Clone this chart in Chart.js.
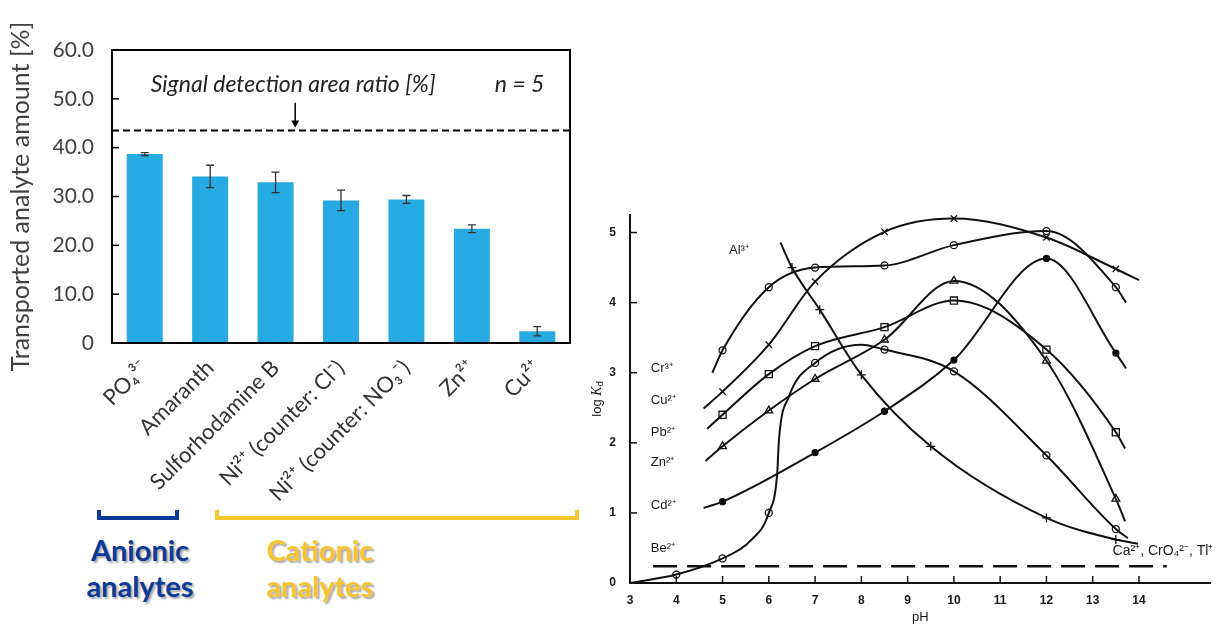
<!DOCTYPE html>
<html>
<head>
<meta charset="utf-8">
<script src="https://cdn.jsdelivr.net/npm/chart.js@4.4.1/dist/chart.umd.min.js"></script>
<style>
    body { margin: 0; background: #fff; width: 1217px; height: 625px; position: relative; overflow: hidden; font-family: Lato, sans-serif; }
    #barBox { position: absolute; left: 0; top: 0; width: 590px; height: 510px; }
    #kdBox { position: absolute; left: 580px; top: 195px; width: 637px; height: 430px; }
    .bracket { position: absolute; top: 510px; height: 6px; border: 4px solid; border-top: none; }
    .group { position: absolute; top: 532px; font: bold 29px Lato, sans-serif; line-height: 36px; text-align: center; text-shadow: 2px 2px 2px rgba(0,0,0,0.35); }
</style>
</head>
<body>
<div id="barBox"><canvas id="barChart" width="590" height="510"></canvas></div>
<div id="kdBox"><canvas id="kdChart" width="637" height="430"></canvas></div>

<div class="bracket" style="left:97px;width:74px;border-color:#0d3a96"></div>
<div class="bracket" style="left:215px;width:356px;border-color:#f5c431"></div>
<div class="group" style="left:78px;width:124px;color:#0d3a96">Anionic<br>analytes</div>
<div class="group" style="left:258px;width:124px;color:#f5c431">Cationic<br>analytes</div>

<script>
// ---- left chart data ----
const analytes = ['PO₄³⁻', 'Amaranth', 'Sulforhodamine B', 'Ni²⁺ (counter: Cl⁻)', 'Ni²⁺ (counter: NO₃⁻)', 'Zn²⁺', 'Cu²⁺'];
const transported = [38.7, 34.1, 32.9, 29.2, 29.4, 23.4, 2.4];
const transportedErr = [0.3, 2.3, 2.1, 2.1, 0.8, 0.8, 0.95];
const detectionRatio = 43.5;
const amountTicks = [0, 10, 20, 30, 40, 50, 60];

// ---- right chart data (log Kd vs pH) ----
const phTicks = [3, 4, 5, 6, 7, 8, 9, 10, 11, 12, 13, 14];
const kdTicks = [0, 1, 2, 3, 4, 5];
// measured points (with markers) and extra curve points without markers
const cr3Pts = [[5, 3.32], [6, 4.22], [7, 4.5], [8.5, 4.53], [10, 4.82], [12, 5.02], [13.5, 4.22]];
const cr3Ext = [[4.78, 3.0], [13.72, 4.0]];
const cu2Pts = [[5, 2.73], [6, 3.4], [7, 4.3], [8.5, 5.01], [10, 5.2], [12, 4.93], [13.5, 4.48]];
const cu2Ext = [[4.59, 2.49], [14.0, 4.32]];
const pb2Pts = [[5, 2.4], [6, 2.98], [7, 3.38], [8.5, 3.65], [10, 4.03], [12, 3.33], [13.5, 2.15]];
const pb2Ext = [[4.67, 2.2], [13.7, 1.92]];
const zn2Pts = [[5, 1.95], [6, 2.46], [7, 2.91], [8.5, 3.47], [10, 4.31], [12, 3.17], [13.5, 1.2]];
const zn2Ext = [[4.63, 1.74], [13.7, 0.88]];
const cd2Pts = [[5, 1.16], [7, 1.86], [8.5, 2.45], [10, 3.18], [12, 4.63], [13.5, 3.28]];
const cd2Ext = [[4.59, 1.07], [13.72, 3.06]];
const be2Pts = [[4, 0.12], [5, 0.35], [6, 1.0], [7, 3.14], [8.5, 3.33], [10, 3.02], [12, 1.82], [13.5, 0.77]];
const be2Ext = [[3, 0.0], [5.6, 0.6], [6.18, 1.55], [6.22, 2.05], [6.43, 2.65], [8.0, 3.40], [13.76, 0.64]];
const al3Pts = [[6.5, 4.5], [7.1, 3.9], [8, 2.97], [9.5, 1.95], [12, 0.93], [13.5, 0.62]];
const al3Ext = [[6.25, 4.86], [13.98, 0.56]];
const noSorption = [[3.5, 0.24], [14.6, 0.24]];

const speciesNames = ['Cr³⁺', 'Cu²⁺', 'Pb²⁺', 'Zn²⁺', 'Cd²⁺', 'Be²⁺'];
const speciesLabelY = [3.06, 2.6, 2.15, 1.72, 1.11, 0.5];

// ============ bar chart ============
const barDecor = {
    id: 'barDecor',
    afterDatasetsDraw(chart) {
        const { ctx, chartArea: a, scales: { x, y } } = chart;
        ctx.save();
        // error bars
        ctx.strokeStyle = '#333';
        ctx.lineWidth = 1.3;
        transported.forEach((v, i) => {
            const px = x.getPixelForValue(i);
            const t = y.getPixelForValue(v + transportedErr[i]);
            const b = y.getPixelForValue(v - transportedErr[i]);
            ctx.beginPath();
            ctx.moveTo(px, t); ctx.lineTo(px, b);
            ctx.moveTo(px - 4, t); ctx.lineTo(px + 4, t);
            ctx.moveTo(px - 4, b); ctx.lineTo(px + 4, b);
            ctx.stroke();
        });
        // dashed detection line
        const dy = y.getPixelForValue(detectionRatio);
        ctx.strokeStyle = '#000';
        ctx.lineWidth = 2;
        ctx.setLineDash([7, 4]);
        ctx.beginPath();
        ctx.moveTo(a.left, dy); ctx.lineTo(a.right, dy);
        ctx.stroke();
        ctx.setLineDash([]);
        // arrow
        const ax = a.left + a.width * 0.40;
        const at = y.getPixelForValue(49.2);
        ctx.lineWidth = 1.5;
        ctx.beginPath();
        ctx.moveTo(ax, at); ctx.lineTo(ax, dy - 6);
        ctx.stroke();
        ctx.fillStyle = '#000';
        ctx.beginPath();
        ctx.moveTo(ax - 4, dy - 10); ctx.lineTo(ax + 4, dy - 10); ctx.lineTo(ax, dy - 3);
        ctx.closePath();
        ctx.fill();
        // annotation text
        ctx.fillStyle = '#222';
        ctx.font = 'italic 23px Lato, sans-serif';
        ctx.textAlign = 'center';
        ctx.textBaseline = 'middle';
        const ty = y.getPixelForValue(53.0);
        ctx.fillText('Signal detection area ratio [%]', ax - 2, ty);
        ctx.fillText('n = 5', a.left + a.width * 0.89, ty);
        // inner tick marks on the y axis
        ctx.strokeStyle = '#000';
        ctx.lineWidth = 1.5;
        amountTicks.forEach(v => {
            const py = y.getPixelForValue(v);
            ctx.beginPath();
            ctx.moveTo(a.left, py); ctx.lineTo(a.left + 7, py);
            ctx.stroke();
        });
        // frame
        ctx.lineWidth = 2;
        ctx.strokeRect(a.left, a.top, a.width, a.height);
        ctx.restore();
    }
};

new Chart(document.getElementById('barChart'), {
    type: 'bar',
    data: {
        labels: analytes,
        datasets: [{
            data: transported,
            backgroundColor: '#27a9e1',
            barPercentage: 0.55,
            categoryPercentage: 1
        }]
    },
    options: {
        responsive: false,
        animation: false,
        layout: { padding: { top: 50, right: 20, left: 0, bottom: 0 } },
        plugins: { legend: { display: false }, tooltip: { enabled: false } },
        scales: {
            x: {
                grid: { display: false },
                border: { display: false },
                ticks: { color: '#333', font: { family: 'Lato', size: 22 }, minRotation: 45, maxRotation: 45, padding: 4 },
                afterFit: s => { s.height = 167; }
            },
            y: {
                min: 0, max: 60,
                grid: { display: false },
                border: { display: false },
                afterBuildTicks: s => { s.ticks = amountTicks.map(v => ({ value: v })); },
                ticks: {
                    color: '#404040', font: { family: 'Lato', size: 21 }, padding: 10,
                    callback: v => v === 0 ? '0' : v.toFixed(1)
                },
                title: {
                    display: true, text: 'Transported analyte amount [%]',
                    color: '#404040', font: { family: 'Lato', size: 25 }, padding: { top: 6, bottom: 0 }
                },
                afterFit: s => { s.width = 112; }
            }
        }
    },
    plugins: [barDecor]
});

// ============ log Kd chart ============
const toXY = arr => arr.map(p => ({ x: p[0], y: p[1] }));
const curve = (pts, ext) => toXY([...pts, ...ext].sort((a, b) => a[0] - b[0]));

const series = [
    { pts: cr3Pts, ext: cr3Ext, style: 'circle', fill: '#fff', r: 3.5 },
    { pts: cu2Pts, ext: cu2Ext, style: 'crossRot', fill: '#fff', r: 4.5 },
    { pts: pb2Pts, ext: pb2Ext, style: 'rect', fill: '#fff', r: 5 },
    { pts: zn2Pts, ext: zn2Ext, style: 'triangle', fill: '#fff', r: 4.5 },
    { pts: cd2Pts, ext: cd2Ext, style: 'circle', fill: '#000', r: 3 },
    { pts: be2Pts, ext: be2Ext, style: 'circle', fill: '#fff', r: 3.5 },
    { pts: al3Pts, ext: al3Ext, style: 'cross', fill: '#fff', r: 4.5 }
];

const kdDatasets = [];
series.forEach(s => {
    kdDatasets.push({
        data: curve(s.pts, s.ext),
        borderColor: '#111', borderWidth: 2,
        pointRadius: 0, cubicInterpolationMode: 'monotone', fill: false
    });
});
series.forEach(s => {
    kdDatasets.push({
        data: toXY(s.pts),
        showLine: false,
        pointStyle: s.style, pointRadius: s.r,
        pointBackgroundColor: s.fill, pointBorderColor: '#111', pointBorderWidth: 1.3
    });
});
kdDatasets.push({
    data: toXY(noSorption),
    borderColor: '#111', borderWidth: 2.4, borderDash: [24, 10],
    pointRadius: 0, fill: false
});

const kdDecor = {
    id: 'kdDecor',
    afterDraw(chart) {
        const { ctx, chartArea: a, scales: { x, y } } = chart;
        ctx.save();
        ctx.strokeStyle = '#111';
        ctx.lineWidth = 1.5;
        phTicks.forEach(v => {
            const px = x.getPixelForValue(v);
            ctx.beginPath(); ctx.moveTo(px, a.bottom); ctx.lineTo(px, a.bottom - 7); ctx.stroke();
        });
        kdTicks.forEach(v => {
            const py = y.getPixelForValue(v);
            ctx.beginPath(); ctx.moveTo(a.left, py); ctx.lineTo(a.left + 7, py); ctx.stroke();
        });
        ctx.fillStyle = '#1a1a1a';
        ctx.font = '13px "Liberation Sans", sans-serif';
        ctx.textBaseline = 'middle';
        ctx.textAlign = 'left';
        speciesNames.forEach((n, i) => {
            ctx.fillText(n, x.getPixelForValue(3.45), y.getPixelForValue(speciesLabelY[i]));
        });
        ctx.fillText('Al³⁺', x.getPixelForValue(5.14), y.getPixelForValue(4.74));
        ctx.font = '14px "Liberation Sans", sans-serif';
        ctx.fillText('Ca²⁺, CrO₄²⁻, Tl⁺', x.getPixelForValue(13.43), y.getPixelForValue(0.45));
        // y title: log K_d
        ctx.translate(17, (a.top + a.bottom) / 2);
        ctx.rotate(-Math.PI / 2);
        ctx.textAlign = 'left';
        ctx.font = '13px "Liberation Sans", sans-serif';
        const w1 = ctx.measureText('log ').width;
        ctx.font = 'italic 14px "Liberation Serif", serif';
        const w2 = ctx.measureText('K').width;
        const x0 = -(w1 + w2 + 5) / 2;
        ctx.font = '13px "Liberation Sans", sans-serif';
        ctx.fillText('log ', x0, 0);
        ctx.font = 'italic 14px "Liberation Serif", serif';
        ctx.fillText('K', x0 + w1, 0);
        ctx.font = '9px "Liberation Sans", sans-serif';
        ctx.fillText('d', x0 + w1 + w2, 4);
        ctx.restore();
    }
};

new Chart(document.getElementById('kdChart'), {
    type: 'line',
    data: { datasets: kdDatasets },
    options: {
        responsive: false,
        animation: false,
        layout: { padding: { top: 20, right: 0, left: 0, bottom: 0 } },
        plugins: { legend: { display: false }, tooltip: { enabled: false } },
        scales: {
            x: {
                type: 'linear', min: 3, max: 15.55,
                grid: { display: false },
                border: { color: '#111', width: 2 },
                afterBuildTicks: s => { s.ticks = phTicks.map(v => ({ value: v })); },
                ticks: { color: '#1a1a1a', font: { family: 'Liberation Sans', size: 12, weight: 'bold' }, padding: 2, autoSkip: false, maxRotation: 0 },
                title: { display: true, text: 'pH', color: '#1a1a1a', font: { family: 'Liberation Sans', size: 13 }, padding: { top: 0, bottom: 0 } },
                afterFit: s => { s.height = 42; }
            },
            y: {
                min: 0, max: 5.25,
                grid: { display: false },
                border: { color: '#111', width: 2 },
                afterBuildTicks: s => { s.ticks = kdTicks.map(v => ({ value: v })); },
                ticks: { color: '#1a1a1a', font: { family: 'Liberation Sans', size: 12, weight: 'bold' }, padding: 6 },
                afterFit: s => { s.width = 50; }
            }
        }
    },
    plugins: [kdDecor]
});
</script>
</body>
</html>
